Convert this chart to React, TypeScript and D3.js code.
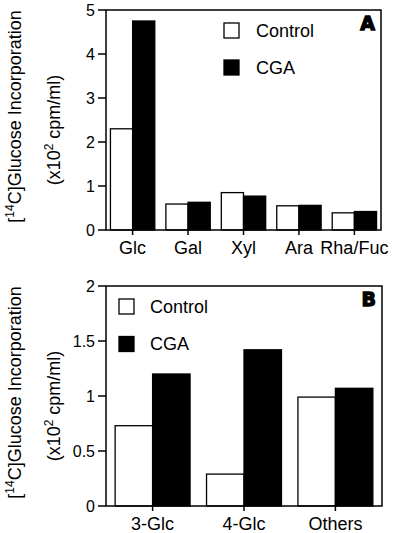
import React from "react";
import * as d3 from "d3";

const catsA = ["Glc", "Gal", "Xyl", "Ara", "Rha/Fuc"];
const controlA = [2.3, 0.59, 0.85, 0.55, 0.39];
const cgaA = [4.75, 0.63, 0.77, 0.56, 0.42];
const ticksA = [0, 1, 2, 3, 4, 5];

const catsB = ["3-Glc", "4-Glc", "Others"];
const controlB = [0.73, 0.29, 0.99];
const cgaB = [1.2, 1.42, 1.07];
const ticksB = [0, 0.5, 1, 1.5, 2];

const seriesNames = ["Control", "CGA"];
const FONT = "'Liberation Sans', Arial, Helvetica, sans-serif";

type PanelProps = {
  cats: string[];
  control: number[];
  cga: number[];
  ticks: number[];
  yMax: number;
  top: number;
  bottom: number;
  left: number;
  right: number;
  padInner: number;
  padOuter: number;
  letter: string;
  legendX: number;
  legendY: number;
  legendGap: number;
  legendTextDx: number;
};

function Panel(p: PanelProps) {
  const x = d3
    .scaleBand<string>()
    .domain(p.cats)
    .range([p.left, p.right])
    .paddingInner(p.padInner)
    .paddingOuter(p.padOuter);
  const sub = d3
    .scaleBand<string>()
    .domain(seriesNames)
    .range([0, x.bandwidth()]);
  const y = d3.scaleLinear().domain([0, p.yMax]).range([p.bottom, p.top]);
  const midY = (p.top + p.bottom) / 2;
  return (
    <g>
      {p.cats.map((c, i) => (
        <g key={c}>
          <rect
            x={(x(c) as number) + (sub("Control") as number)}
            y={y(p.control[i])}
            width={sub.bandwidth()}
            height={y(0) - y(p.control[i])}
            fill="#fff"
            stroke="#000"
            strokeWidth={1.3}
          />
          <rect
            x={(x(c) as number) + (sub("CGA") as number)}
            y={y(p.cga[i])}
            width={sub.bandwidth()}
            height={y(0) - y(p.cga[i])}
            fill="#000"
            stroke="#000"
            strokeWidth={1.3}
          />
        </g>
      ))}
      <rect
        x={p.left}
        y={p.top}
        width={p.right - p.left}
        height={p.bottom - p.top}
        fill="none"
        stroke="#000"
        strokeWidth={1.5}
      />
      {p.ticks.map((t) => (
        <g key={t}>
          <line x1={p.left - 8} x2={p.left} y1={y(t)} y2={y(t)} stroke="#000" strokeWidth={1.5} />
          <text
            x={p.left - 11}
            y={y(t)}
            dy="0.36em"
            textAnchor="end"
            fontSize={16}
            fontFamily={FONT}
          >
            {String(t)}
          </text>
        </g>
      ))}
      {p.cats.map((c) => {
        const cx = (x(c) as number) + x.bandwidth() / 2;
        return (
          <g key={"t" + c}>
            <line x1={cx} x2={cx} y1={p.bottom} y2={p.bottom + 5} stroke="#000" strokeWidth={1.5} />
            <text x={cx} y={p.bottom + 24} textAnchor="middle" fontSize={18} fontFamily={FONT}>
              {c}
            </text>
          </g>
        );
      })}
      {/* y axis title */}
      <text
        transform={`translate(21,${midY - 3.5}) rotate(-90)`}
        textAnchor="middle"
        fontSize={18}
        fontFamily={FONT}
      >
        [<tspan baselineShift="super" fontSize={12}>14</tspan>C]Glucose Incorporation
      </text>
      <text
        transform={`translate(60,${midY + 10}) rotate(-90)`}
        textAnchor="middle"
        fontSize={18}
        fontFamily={FONT}
      >
        (x10<tspan baselineShift="super" fontSize={12}>2</tspan> cpm/ml)
      </text>
      {/* legend */}
      {seriesNames.map((s, i) => (
        <g key={s}>
          <rect
            x={p.legendX}
            y={p.legendY + i * p.legendGap}
            width={15}
            height={15}
            fill={i === 0 ? "#fff" : "#000"}
            stroke="#000"
            strokeWidth={1.3}
          />
          <text
            x={p.legendX + p.legendTextDx}
            y={p.legendY + i * p.legendGap + 13.5}
            fontSize={18}
            fontFamily={FONT}
          >
            {s}
          </text>
        </g>
      ))}
      <text
        x={p.right - 6}
        y={p.top + 20}
        textAnchor="end"
        fontSize={19}
        fontWeight={900}
        fontFamily="'DejaVu Sans', sans-serif"
        stroke="#000"
        strokeWidth={1.3}
      >
        {p.letter}
      </text>
    </g>
  );
}

export default function App() {
  return (
    <svg width={400} height={533} style={{ position: "absolute", left: 0, top: 0, background: "#fff" }}>
      <rect width={400} height={533} fill="#fff" />
      <Panel
        cats={catsA}
        control={controlA}
        cga={cgaA}
        ticks={ticksA}
        yMax={5}
        top={10}
        bottom={230}
        left={106}
        right={381}
        padInner={0.2}
        padOuter={0.08}
        letter="A"
        legendX={224}
        legendY={23}
        legendGap={37}
        legendTextDx={32}
      />
      <Panel
        cats={catsB}
        control={controlB}
        cga={cgaB}
        ticks={ticksB}
        yMax={2}
        top={286}
        bottom={506}
        left={106}
        right={382}
        padInner={0.18}
        padOuter={0.1}
        letter="B"
        legendX={119}
        legendY={299}
        legendGap={37.5}
        legendTextDx={31}
      />
    </svg>
  );
}
